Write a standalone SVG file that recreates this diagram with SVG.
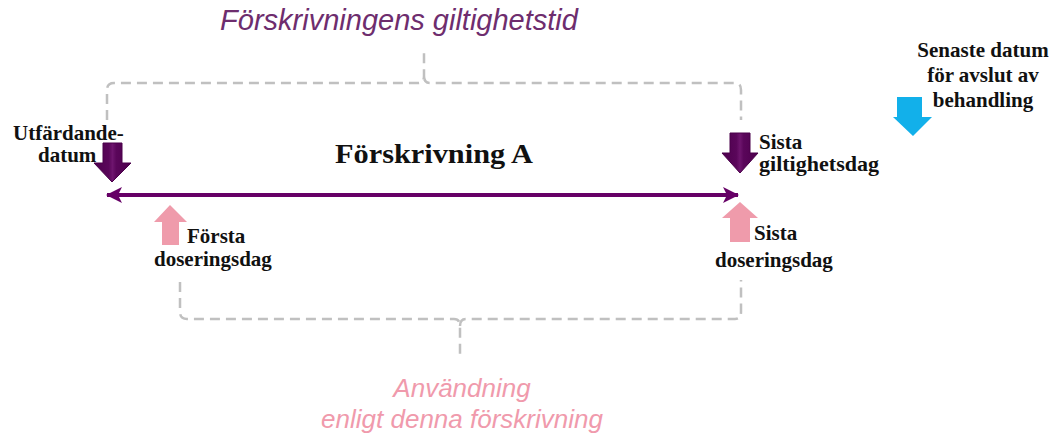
<svg xmlns="http://www.w3.org/2000/svg" width="1052" height="436" viewBox="0 0 1052 436">
<defs>
<style>
.lbl{font-family:"Liberation Serif","Times New Roman",serif;font-weight:bold;font-size:21px;fill:#111111}
.brace{fill:none;stroke:#c0c0c0;stroke-width:2.5;stroke-dasharray:10 6}
.purple{fill:url(#pg);stroke:#4a004a;stroke-width:1}
.pink{fill:#ef9bab}
.blue{fill:#12b0ea}
</style>
<linearGradient id="pg" x1="0" y1="0" x2="1" y2="0">
<stop offset="0" stop-color="#4d004d"/>
<stop offset="0.4" stop-color="#5a065a"/>
<stop offset="0.5" stop-color="#6e156e"/>
<stop offset="0.6" stop-color="#5a065a"/>
<stop offset="1" stop-color="#4d004d"/>
</linearGradient>
<marker id="ah" viewBox="0 0 16 16" refX="15" refY="8" markerWidth="16" markerHeight="16" markerUnits="userSpaceOnUse" orient="auto-start-reverse">
<path d="M0,0 L16,8 L0,16 L4,8 Z" fill="#660066"/>
</marker>
</defs>
<rect width="1052" height="436" fill="#ffffff"/>

<g id="connectors">
<path id="brace-top" class="brace" d="M107,120 L107,90 Q107,83 114,83 L418,83 Q424,83 424,76 L424,48 M424,76 Q424,83 430,83 L735,83 Q741,83 741,90 L741,120"/>
<path id="brace-bottom" class="brace" d="M180,282 L180,312 Q180,319 187,319 L454,319 Q460,319 460,326 L460,357 M460,326 Q460,319 466,319 L735,319 Q741,319 741,312 L741,280"/>
<line id="timeline" x1="107" y1="195" x2="738" y2="195" stroke="#660066" stroke-width="4" marker-start="url(#ah)" marker-end="url(#ah)"/>
</g>

<g id="title-giltighetstid">
<text x="399" y="30" font-family="'Liberation Sans',Arial,sans-serif" font-style="italic" font-size="29" fill="#6e2d6e" text-anchor="middle">Förskrivningens giltighetstid</text>
</g>

<g id="forskrivning-a">
<text x="434" y="163" font-family="'Liberation Serif','Times New Roman',serif" font-weight="bold" font-size="27" fill="#111111" text-anchor="middle" textLength="198" lengthAdjust="spacingAndGlyphs">Förskrivning A</text>
</g>

<g id="utfardandedatum">
<polygon class="purple" points="103,143 122,143 122,163 131,163 112,182 94,163 103,163"/>
<text class="lbl" x="13" y="140">Utfärdande-</text>
<text class="lbl" x="38" y="162">datum</text>
</g>

<g id="sista-giltighetsdag">
<polygon class="purple" points="730,133 750,133 750,153 758,153 740,173 722,153 730,153"/>
<text class="lbl" x="759" y="149">Sista</text>
<text class="lbl" x="759" y="171" textLength="120" lengthAdjust="spacingAndGlyphs">giltighetsdag</text>
</g>

<g id="forsta-doseringsdag">
<polygon class="pink" points="170,205 187,222 179,222 179,245 162,245 162,222 154,222"/>
<text class="lbl" x="187" y="243">Första</text>
<text class="lbl" x="154" y="266">doseringsdag</text>
</g>

<g id="sista-doseringsdag">
<polygon class="pink" points="740,202 758,218 750,218 750,242 730,242 730,218 722,218"/>
<text class="lbl" x="754" y="240">Sista</text>
<text class="lbl" x="715" y="267">doseringsdag</text>
</g>

<g id="senaste-datum">
<polygon class="blue" points="897,97 922,97 922,117 932,117 913,136 893,117 897,117"/>
<text class="lbl" x="983" y="57" text-anchor="middle" font-size="20">Senaste datum</text>
<text class="lbl" x="983" y="82" text-anchor="middle" font-size="20">för avslut av</text>
<text class="lbl" x="983" y="107" text-anchor="middle" font-size="20">behandling</text>
</g>

<g id="anvandning">
<text x="462" y="397" font-family="'Liberation Sans',Arial,sans-serif" font-style="italic" font-size="26" fill="#f09aac" text-anchor="middle">Användning</text>
<text x="462" y="428" font-family="'Liberation Sans',Arial,sans-serif" font-style="italic" font-size="26" fill="#f09aac" text-anchor="middle">enligt denna förskrivning</text>
</g>
</svg>
